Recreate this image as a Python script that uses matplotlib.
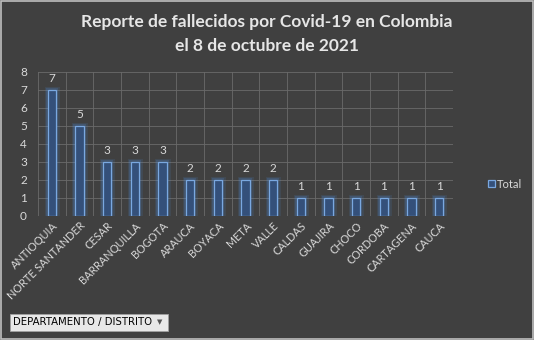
import matplotlib
matplotlib.use("Agg")
import matplotlib.pyplot as plt
import numpy as np
from matplotlib.patches import Rectangle

departamentos = ["ANTIOQUIA", "NORTE SANTANDER", "CESAR", "BARRANQUILLA", "BOGOTA",
                 "ARAUCA", "BOYACA", "META", "VALLE", "CALDAS", "GUAJIRA", "CHOCO",
                 "CORDOBA", "CARTAGENA", "CAUCA"]
fallecidos = [7, 5, 3, 3, 3, 2, 2, 2, 2, 1, 1, 1, 1, 1, 1]
y_ticks = [0, 1, 2, 3, 4, 5, 6, 7, 8]

bg = "#404040"
txt = "#d9d9d9"
plt.rcParams['font.family'] = ['Lato', 'DejaVu Sans']

fig = plt.figure(figsize=(5.34, 3.40), dpi=100, facecolor=bg)
W, H = 534, 340
ax = fig.add_axes([38 / W, 1 - 216 / H, 415 / W, 144 / H], facecolor=bg)

x = np.arange(len(departamentos))
# glow
for lw, a in [(5, 0.12), (3, 0.2)]:
    ax.bar(x, fallecidos, width=0.3, color="none", edgecolor="#4f8fe0", linewidth=lw, alpha=a, zorder=2)
ax.bar(x, fallecidos, width=0.3, color="#34507a", edgecolor="#7aa8e0", linewidth=0.9, zorder=3,
       label="Total")
for xi, v in zip(x, fallecidos):
    ax.text(xi, v + 0.35, str(v), ha="center", va="bottom", color=txt, fontsize=8.5)

ax.set_xlim(-0.5, len(departamentos) - 0.5)
ax.set_ylim(0, 8)
ax.set_yticks(y_ticks)
ax.set_xticks(x)
ax.set_xticklabels(departamentos, rotation=45, ha="right", rotation_mode="anchor", fontsize=7.8, color=txt)
ax.set_xticks(np.arange(-0.5, len(departamentos), 1), minor=True)
ax.tick_params(axis="y", colors=txt, labelsize=8.5, length=0, pad=8)
ax.tick_params(axis="x", which="both", length=0, pad=3)
ax.grid(True, axis="y", color="#6a6a6a", linewidth=0.6)
ax.grid(True, axis="x", which="minor", color="#6a6a6a", linewidth=0.6)
ax.set_axisbelow(True)
for s in ax.spines.values():
    s.set_visible(False)

fig.text(0.5, 1 - 22 / H, "Reporte de fallecidos por Covid-19 en Colombia", ha="center", va="center",
         color="#e6e6e6", fontsize=12.5, fontweight="bold")
fig.text(0.5, 1 - 46 / H, "el 8 de octubre de 2021", ha="center", va="center",
         color="#e6e6e6", fontsize=12.5, fontweight="bold")

leg = fig.legend(loc="center left", bbox_to_anchor=(478 / W, 1 - 184 / H), frameon=False,
                 handlelength=0.6, handleheight=0.6, handletextpad=0.2, fontsize=8)
for t in leg.get_texts():
    t.set_color(txt)

# outer border
fig.patches.append(Rectangle((0.002, 0.003), 0.996, 0.994, transform=fig.transFigure,
                             fill=False, edgecolor="#bfbfbf", linewidth=1.2))
# field button
fig.patches.append(Rectangle((10 / W, 1 - 331 / H), 158 / W, 17 / H, transform=fig.transFigure,
                             facecolor="#e8e8e8", edgecolor="#a0a0a0", linewidth=0.6))
fig.text(13 / W, 1 - 322.5 / H, "DEPARTAMENTO / DISTRITO", ha="left", va="center",
         color="black", fontsize=7.3, family=["DejaVu Sans"])
fig.text(160 / W, 1 - 322.5 / H, "▼", ha="center", va="center", color="#555555", fontsize=5,
         family=["DejaVu Sans"])

fig.savefig("out.png", dpi=100, facecolor=bg)
